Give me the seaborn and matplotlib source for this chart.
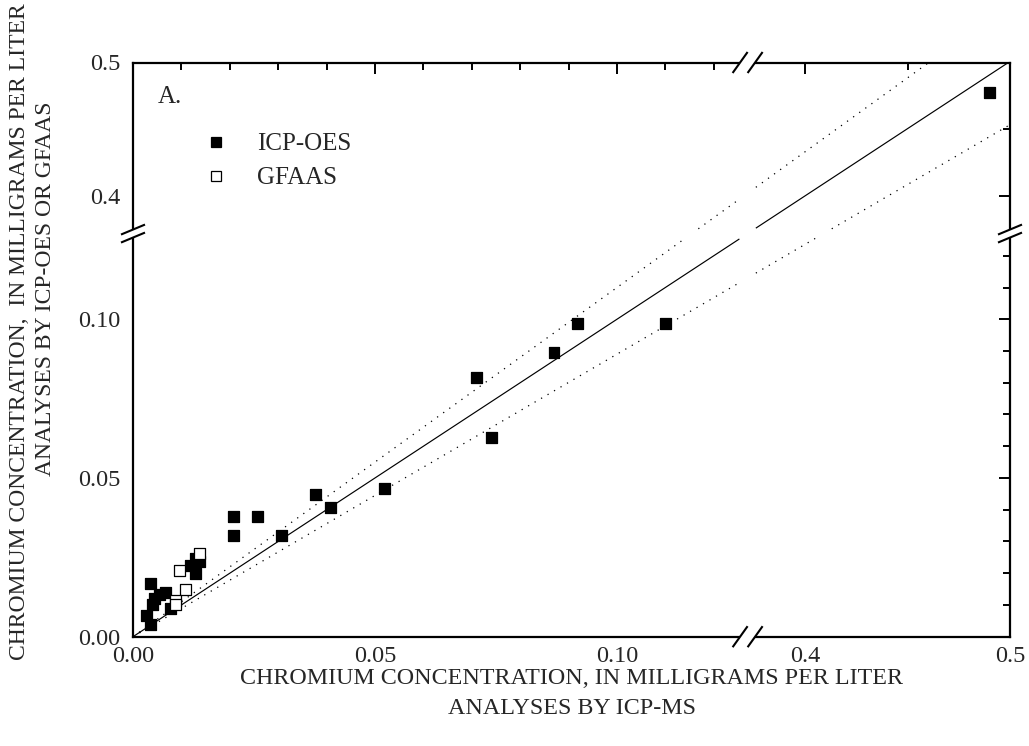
import numpy as np
import pandas as pd
import matplotlib
matplotlib.use("Agg")
import matplotlib.pyplot as plt
from matplotlib.lines import Line2D
from matplotlib.ticker import FixedLocator, FixedFormatter, NullFormatter
from matplotlib.transforms import IdentityTransform
import seaborn as sns

# Chromium, mg/L: ICP-MS (x) against ICP-OES or GFAAS (y)
icpms_for_oes = [0.0037, 0.0027, 0.0036, 0.0040, 0.0045, 0.0055, 0.0068, 0.0078,
                 0.0118, 0.0130, 0.0138, 0.0130, 0.0207, 0.0257, 0.0207, 0.0307,
                 0.0408, 0.0377, 0.0519, 0.0709, 0.0740, 0.0870, 0.0919, 0.1101,
                 0.4898]
icp_oes = [0.0168, 0.0066, 0.0038, 0.0100, 0.0120, 0.0133, 0.0140, 0.0090,
           0.0225, 0.0247, 0.0237, 0.0198, 0.0378, 0.0378, 0.0320, 0.0320,
           0.0407, 0.0447, 0.0467, 0.0818, 0.0629, 0.0896, 0.0987, 0.0987,
           0.4776]
icpms_for_gf = [0.0138, 0.0097, 0.0108, 0.0088, 0.0088]
gfaas = [0.0263, 0.0210, 0.0150, 0.0113, 0.0100]

# Reference lines: 1:1 line and the band around it
line_ratios = [1.0, 1.10, 0.89]
line_styles = ["-", (0, (1, 5)), (0, (1, 5))]
line_widths = [0.85, 0.9, 0.9]

# Broken axes: lower segment ends, upper segment starts, and its compression
BREAK_LO, BREAK_HI = 0.127, 0.372
X_SHRINK, Y_SHRINK = 0.4236, 0.421

tick_major = [0.0, 0.05, 0.10, 0.4, 0.5]
tick_labels = ["0.00", "0.05", "0.10", "0.4", "0.5"]
tick_minor = [0.01, 0.02, 0.03, 0.04, 0.06, 0.07, 0.08, 0.09, 0.11, 0.12, 0.45]


def broken(lo, hi, k):
    def fwd(v):
        v = np.asarray(v, dtype=float)
        return np.where(v <= lo, v, np.where(v >= hi, lo + (v - hi) * k, lo))

    def inv(t):
        t = np.asarray(t, dtype=float)
        return np.where(t <= lo, t, hi + (t - lo) / k)
    return fwd, inv


fx, ix = broken(BREAK_LO, BREAK_HI, X_SHRINK)
fy, iy = broken(BREAK_LO, BREAK_HI, Y_SHRINK)

sns.set_style("white")
plt.rcParams["font.family"] = ["Liberation Serif", "DejaVu Serif"]

fig = plt.figure(figsize=(10.29, 7.46), dpi=100)
ax = fig.add_axes([133 / 1029, 1 - 636.7 / 746, 877 / 1029, 574.2 / 746])
ax.set_xscale("function", functions=(fx, ix))
ax.set_yscale("function", functions=(fy, iy))
ax.set_xlim(0, 0.5)
ax.set_ylim(0, 0.5)

df = pd.DataFrame({
    "ms": icpms_for_oes + icpms_for_gf,
    "other": icp_oes + gfaas,
    "method": ["ICP-OES"] * len(icp_oes) + ["GFAAS"] * len(gfaas),
})

# Reference lines, drawn straight across the broken scale with gaps at the breaks
tx_max = float(fx(0.5))
ty_max = float(fy(0.5))
gx, gy = 0.0017, 0.0015
for r, ls, lw in zip(line_ratios, line_styles, line_widths):
    t_end = min(tx_max, ty_max / r)
    cuts = sorted([(BREAK_LO - gx, BREAK_LO + gx),
                   ((BREAK_LO - gy) / r, (BREAK_LO + gy) / r)])
    pieces, start = [], 0.0
    for a, b in cuts:
        if a > start:
            pieces.append((start, min(a, t_end)))
        start = max(start, b)
    if start < t_end:
        pieces.append((start, t_end))
    for a, b in pieces:
        if b <= a:
            continue
        tx = np.array([a, b])
        ax.plot(ix(tx), iy(r * tx), color="black", lw=lw, ls=ls,
                zorder=2, solid_capstyle="butt")

sns.scatterplot(data=df, x="ms", y="other", hue="method", style="method",
                palette={"ICP-OES": "black", "GFAAS": "white"},
                markers={"ICP-OES": "s", "GFAAS": "s"},
                edgecolor="black", linewidth=0.9, s=62, legend=False,
                zorder=3, ax=ax)

ax.set_xlim(0, 0.5)
ax.set_ylim(0, 0.5)

for axis in (ax.xaxis, ax.yaxis):
    axis.set_major_locator(FixedLocator(tick_major))
    axis.set_major_formatter(FixedFormatter(tick_labels))
    axis.set_minor_locator(FixedLocator(tick_minor))
    axis.set_minor_formatter(NullFormatter())

ax.tick_params(which="both", direction="in", top=True, right=True,
               width=1.4, color="black")
ax.tick_params(which="major", length=8, labelsize=17.5)
ax.tick_params(axis="x", which="major", pad=7)
ax.tick_params(axis="y", which="major", pad=9)
ax.tick_params(which="minor", length=5)
ax.set_xlabel("")
ax.set_ylabel("")
for sp in ax.spines.values():
    sp.set_linewidth(1.6)
    sp.set_color("black")

ax.text((158 - 133) / 877, (636.7 - 103) / 574.2, "A.", fontsize=18,
        transform=ax.transAxes, va="baseline", ha="left")

handles = [
    Line2D([], [], ls="", marker="s", ms=7.9, mfc="black", mec="black", mew=0.9),
    Line2D([], [], ls="", marker="s", ms=7.9, mfc="white", mec="black", mew=0.9),
]
ax.legend(handles, ["ICP-OES", "GFAAS"], loc="upper left",
          bbox_to_anchor=((203.5 - 133) / 877, (636.7 - 133) / 574.2),
          frameon=False, fontsize=18, handlelength=1.0, handletextpad=1.14,
          borderpad=0, borderaxespad=0, labelspacing=0.45)

fig.text(20 / 1029, 1 - 332 / 746,
         "CHROMIUM CONCENTRATION,  IN MILLIGRAMS PER LITER",
         rotation=90, ha="center", va="center", fontsize=17)
fig.text(46 / 1029, 1 - 289 / 746, "ANALYSES BY ICP-OES OR GFAAS",
         rotation=90, ha="center", va="center", fontsize=17)
fig.text(572 / 1029, 1 - 679 / 746,
         "CHROMIUM CONCENTRATION, IN MILLIGRAMS PER LITER",
         ha="center", va="center", fontsize=17.3)
fig.text(572 / 1029, 1 - 708 / 746, "ANALYSES BY ICP-MS",
         ha="center", va="center", fontsize=17.3)

# Break symbols on the frame (display pixels)
fig.canvas.draw()
xb = ax.transData.transform((BREAK_LO, 0))[0]
yb = ax.transData.transform((0, BREAK_LO))[1]
x0, y0 = ax.transAxes.transform((0, 0))
x1, y1 = ax.transAxes.transform((1, 1))


def seg(p, q, color="black", lw=1.5, z=10):
    fig.add_artist(Line2D([p[0], q[0]], [p[1], q[1]], color=color, lw=lw,
                          transform=IdentityTransform(), zorder=z,
                          solid_capstyle="butt"))


for yy in (y0, y1):
    seg((xb - 7.5, yy), (xb + 7.5, yy), color="white", lw=3, z=9)
    for cx in (xb - 7.5, xb + 7.5):
        seg((cx - 7.5, yy - 10.5), (cx + 7.5, yy + 10.5))
for xx in (x0, x1):
    seg((xx, yb - 4), (xx, yb + 4), color="white", lw=3, z=9)
    for cy in (yb - 4, yb + 4):
        seg((xx - 12, cy - 5), (xx + 12, cy + 5))

fig.savefig("out.png", dpi=100)
